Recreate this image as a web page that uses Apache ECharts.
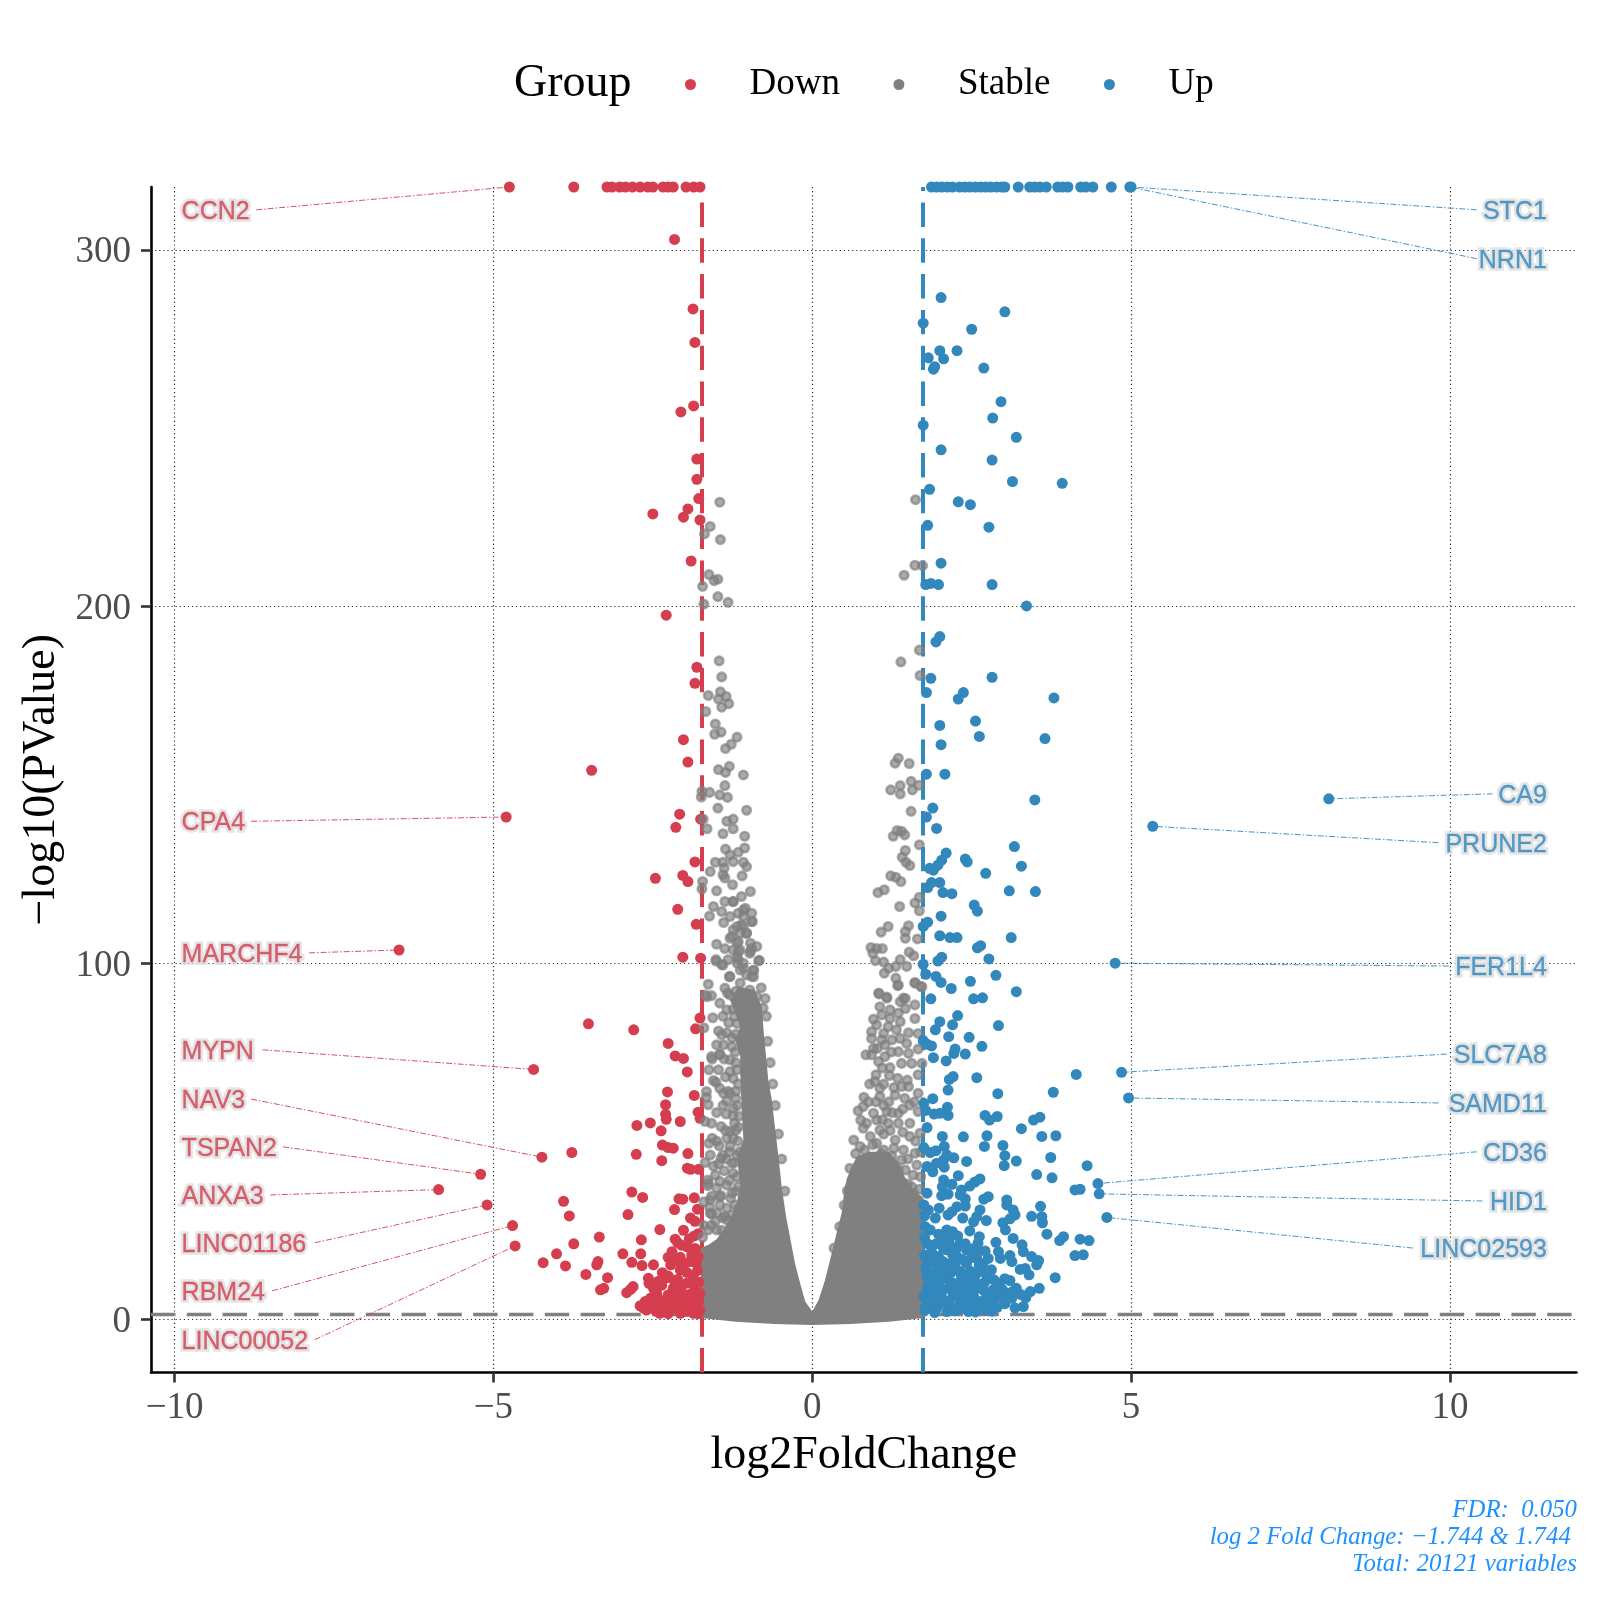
<!DOCTYPE html>
<html>
<head>
<meta charset="utf-8">
<script src="https://cdn.jsdelivr.net/npm/echarts@6/dist/echarts.min.js"></script>
<style>html,body{margin:0;padding:0;background:#fff}#c{width:1600px;height:1600px}</style>
</head>
<body>
<div id="c"></div>
<script>
var downPoints=[[-4.75,317.6],[-3.74,317.6],[-3.22,317.6],[-3.14,317.6],[-3.02,317.6],[-2.93,317.6],[-2.82,317.6],[-2.7,317.6],[-2.58,317.6],[-2.5,317.6],[-2.34,317.6],[-2.26,317.6],[-2.18,317.6],[-1.98,317.6],[-1.86,317.6],[-1.76,317.6],
[-2.16,302.9],[-1.87,283.4],[-1.84,274],[-1.86,256.2],[-2.06,254.5],[-1.81,241.3],[-1.81,235.6],[-1.78,230.2],[-1.95,227.3],[-2.5,225.9],[-2.02,225],[-1.76,224.2],[-1.9,212.7],[-2.29,197.5],[-1.81,182.9],[-1.84,178.4],[-2.02,162.6],[-1.95,156.3],[-3.46,154],[-2.08,141.7],[-1.75,140.3],[-2.14,138],[-1.84,128.3],[-2.46,123.7],[-2.03,124.5],[-1.95,122.8],[-2.11,115],[-1.82,110.8],[-2.03,101.6],[-1.75,101.3],
[-4.8,140.9],[-6.48,103.6],[-4.37,70.1],[-4.24,45.5],[-5.2,40.7],[-5.86,36.4],[-5.1,32.1],[-4.7,26.3],[-4.66,20.6],
[-1.76,84.5],[-3.51,82.9],[-2.8,81.2],[-1.83,81.5],[-2.26,77.4],[-2.15,73.9],[-2.02,73.2],[-1.96,69.4],[-2.27,63.8],[-1.85,62.8],[-2.3,60.2],[-1.79,58.1],[-2.3,57.5],[-2.29,56.1],[-1.76,56.4],[-2.75,54.4],[-2.54,55.1],[-2.07,55.5],[-2.37,52.9],[-3.77,46.8],[-2.76,46.3],[-2.35,48.9],[-2.26,48.2],[-2.18,48],[-1.95,46.5],[-2.36,44.5],[-1.96,42.4],[-1.91,42.1],[-1.78,42.1],[-2.83,35.7],[-2.66,34.2],[-2.09,33.8],[-2.03,33.7],[-1.85,34.1],[-3.9,33.1],[-3.81,29],[-2.89,29.4],[-2.16,30.8],[-1.8,30.9],[-1.91,28.4],[-1.84,27.5],[-2.39,25.2],[-2.02,25],[-1.79,24],[-3.34,23.1],[-2.68,22.3],[-2.11,21.5],[-3.74,21.2],[-1.97,20.4],[-1.84,19.9],[-4.01,18.4],[-2.97,18.4],[-2.69,18.4],[-2.2,19],[-2.26,17.4],[-2.07,17.4],[-1.89,18.1],[-1.79,17.6],[-4.22,15.9],[-3.36,16.2],[-3.38,15.3],[-2.83,16],[-3.87,15],[-2.67,15.1],[-2.49,15.3],[-2.22,15.3],[-2.02,15.3],[-1.92,16.2],[-1.82,15.8],[-3.55,12.6],[-2.35,13.1],[-2.26,12.2],[-2.07,13.9],[-1.8,13.7],[-3.21,11.7],[-2.57,11.5],[-2.28,11.7],[-2.11,11.2],[-2.56,10.1],[-2.81,9.2],[-2.85,8.4],[-2.91,7.5],[-3.27,8.7],[-3.32,8.3],[-2.49,8.7],[-2.05,9.2],[-1.85,9.6],[-2.18,8.7],
[-2.7,3.8],[-2.62,5],[-2.54,5.9],[-2.44,7.3],[-2.39,5.45],[-2.6,2.6],[-2.49,3.1],[-2.34,3.1],[-2.26,6.85],[-2.2,5.45],[-2.13,7.3],[-2.05,6.4],[-1.97,6.85],[-1.89,7.3],[-1.81,6.4],[-1.76,7.3],[-2.23,2.6],[-2.13,3.1],[-2.02,3.6],[-1.92,4],[-1.81,4],[-1.76,2.6],[-2.07,1.7],[-1.97,2.2],[-1.86,1.7],[-2.39,1.7],[-2.26,1.6],[-2.44,5],[-2.18,4.5],[-1.79,1.6],[-2.65,3.2],[-2.55,3.4],[-2.45,2.3],[-2.32,4.4],[-2.1,5],[-2,4.8],[-1.9,5.6],[-1.78,5.2],[-2.52,4.4],[-2.3,2.2],
[-2.15,22.5],[-2.05,20.8],[-1.93,22.6],[-1.85,23.4],[-2.12,16.4],[-1.97,13.2],[-1.87,12.4],[-2.17,11],[-1.96,10.2],[-1.78,10.4],[-2.36,9.6],[-2.42,10.6]];

var stablePoints=[[-1.45,229.2],[-1.6,222.4],[-1.69,220.3],[-1.44,218.7],[-1.62,208.9],[-1.48,207.6],[-1.54,207.2],[-1.72,205.6],[-1.48,202.7],[-1.32,201.1],[-1.7,200.6],[-1.46,184.7],[-1.42,180.2],[-1.63,175],[-1.44,176],[-1.35,174.7],[-1.47,174],[-1.31,172.7],[-1.42,171.7],[-1.67,170.5],[-1.52,167],[-1.43,164.7],[-1.53,164.1],[-1.18,163.3],[-1.27,161.3],[-1.36,160.1],[-1.3,155.1],[-1.47,154.2],[-1.36,153.4],[-1.08,152.7],[-1.37,149.7],[-1.73,148.1],[-1.61,147.8],[-1.45,147.1],[-1.74,146.5],[-1.33,146.4],[-1.48,143.4],[-1.03,142.8],[-1.71,140.3],[-1.24,140.3],[-1.34,139.7],[-1.65,137.6],[-1.24,137.6],[-1.4,136.2],[-1.06,135.5],[-1.36,131.9],[-1.06,132.2],[-1.16,131],[-1.29,130.3],[-1.24,128.4],[-1.52,128.2],[-1.4,128.2],[-1.08,128.2],[-1.03,127],[-1.38,126.6],[-1.6,125.6],[-1.4,124.7],[-1.1,124.4],[-1.37,123.8],[-1.72,122.8],[-1.25,121.9],[-1.73,120.7],[-1.5,120.2],[-0.97,120],[-1.11,118.6],[-1.24,117.2],[-1.37,117.2],[-1.55,115.8],[-1.05,115.3],[-1.42,114.4],[-1.29,113],[-0.95,113.9],[-1.61,113.1],[-1.16,113.9],[-1.39,111.3],[-0.94,111.6],[-1.11,110.7],[-1.24,109.3],[-1.03,108.3],[-1.29,106.9],[-1.16,106],[-1.5,105.2],[-0.95,104.1],[-1.37,104],[-1.16,103.2],[-0.98,102.7],[-1.51,100.9],[-1.32,100.9],[-1.16,100.9],[-0.83,100.7],[-1.42,99.5],[-1.08,98.5],[-0.92,98],[-1.29,96.2],[-0.95,96.2],[-1.63,94],[-1.37,92.9],[-1.13,94.3],[-0.98,92.4],[-1.68,91],[-1.58,90.8],[-1.29,91],[-0.87,90.6],
[-1.24,117.2],[-1.08,114.8],[-0.95,111.6],[-1.08,113],[-1.18,110.2],[-1.08,110.2],[-1.26,107.4],[-1.13,108.3],[-1.03,108.3],[-1.18,105.5],[-0.97,105.5],[-0.87,104.6],[-1.13,103.6],[-1.24,103.6],[-0.97,103.2],[-1.18,101.7],[-0.84,100.6],[-1.08,99.9],[-1.18,99.9],[-0.92,97.8],[-1.13,98],[-1.03,96.6],[-0.92,96.1],[-1.3,96.1],[-1.51,100.5],[-1.4,99.4],[-1.65,90.5],[-1.45,88.7],[-1.34,86.8],[-1.56,84.6],[-1.7,81.8],[-1.31,83.2],[-1.47,80.9],[-1.34,80.4],[-1.42,79.8],[-1.5,77],[-1.39,77],[-1.26,76.5],[-1.58,73.7],[-1.45,74.4],[-0.77,87.3],
[-1.57,73],[-1.45,74.2],[-1.47,70],[-1.29,72.8],[-1.29,69.5],[-1.24,67.6],[-1.51,66.5],[-1.45,64.8],[-1.66,63.9],[-1.39,63.4],[-1.29,63.4],[-1.66,62.3],[-1.34,61.3],[-1.63,60.2],[-1.24,59.2],[-1.35,57.6],[-1.24,57.1],[-1.68,55.5],[-1.16,53.9],[-1.43,54.1],[-1.29,52.7],[-1.57,50.8],[-1.34,50.8],[-1.24,50.8],[-1.62,49.4],[-1.46,48.7],[-1.29,48.5],[-1.4,46.1],[-1.6,46.1],[-1.43,45.2],[-1.18,46.1],[-1.47,43.6],[-1.26,43.8],[-1.38,41.7],[-1.52,40.5],[-1.24,41],[-1.64,39.1],[-1.45,38.7],[-1.34,37.7],[-1.64,37.5],[-1.5,36.8],[-1.16,37.3],[-1.26,35.4],[-1.58,34.5],[-1.43,34.7],[-1.61,31.4],[-1.45,32.1],[-1.34,31.2],[-1.21,32.1],[-1.58,29.6],[-1.49,29.8],[-1.37,28.8],[-1.26,29.3],
[-1.63,38.2],[-1.6,33.5],[-1.45,34.4],[-1.6,29.8],[-1.63,25.1],[-1.5,25.1],[-1.34,27.9],
[-1.7,33],[-1.52,27.5],[-1.7,26.3],[-1.42,25],[-1.58,26.4],[-1.72,23],[-1.4,28.5],[-1.28,34],[-1.55,43],[-1.68,44],[-1.35,45],[-1.5,50],[-1.22,55],[-1.5,58],[-1.58,55],[-1.2,64],[-1.55,67],[-1.62,70],[-1.2,72],[-1.2,80],[-1.22,85],[-1.4,85],
[-1.2,27],[-1.16,31],[-1.2,36],[-1.18,40],[-1.22,44],[-1.14,47],[-1.17,50],[-1.2,53],[-1.15,57],[-1.18,60],[-1.2,62],[-1.16,66],[-1.18,70],[-1.21,75],[-1.26,79],[-1.18,83],[-1.24,87],[-1.32,64],[-1.3,47],[-1.3,39],[-1.36,53],[-1.4,60],[-1.36,68],[-1.38,73],[-1.33,91.5],[-1.2,92],
[-0.72,85],[-0.7,78],[-0.66,72],[-0.62,66],[-0.58,60],[-0.53,52],[-0.48,45],[-0.43,36],[-0.8,93],[-0.74,90],
[1.62,229.9],[1.61,211.5],[1.73,211.4],[1.44,208.7],[1.68,187.7],[1.39,184.4],[1.69,180.6],[1.35,157.4],[1.3,156],[1.52,155.9],[1.55,150.9],[1.38,149.7],[1.67,149.8],[1.23,148.5],[1.57,148.5],[1.38,147.4],[1.55,142.5],[1.33,137.1],[1.4,136.9],[1.27,135.5],[1.45,135.9],[1.68,133.1],[1.46,131.5],[1.41,129.6],[1.47,128.2],[1.53,127.3],[1.23,124.4],[1.31,124],[1.39,122.8],[1.13,120.5],[1.03,119.7],[1.68,118.4],[1.61,116.8],[1.37,115.8],[1.68,114.6],[1.19,110.2],[1.51,110.4],[1.08,108.6],[1.46,108.8],[1.46,106.9],[1.65,106.7],[0.92,104.3],[1.01,104],[1.1,104],[0.95,102.7],[1.52,103],[1.59,102],[0.99,100.6],[1.12,100.2],[1.38,100.9],[1.2,98.5],[1.48,99],[1.31,99],[1.13,97.1],[1.31,95.7],[1.34,93.6],[1.61,94.5],[1.7,93.4],[1.04,91.5],[1.17,90.4],[1.43,90.1],
[1.05,91.3],[1.17,90.1],[1.35,93.8],[1.61,94.3],[1.72,93.3],[1.38,89.1],[1.46,90],[1.46,87.2],[1.61,88.2],[1.61,84.4],[1.06,87.7],[1.22,86.8],[1.35,85.9],[0.96,84.2],[1.09,85.4],[1.22,84.4],[1.38,83.5],[1.01,82.6],[1.19,82.1],[1.32,81.2],[0.93,80.7],[1.12,80.2],[1.51,80.4],[1.66,80.2],[0.93,78.8],[1.09,78.4],[1.25,78.4],[1.38,78.8],[1.48,77.4],[0.96,76],[1.66,75.8],[0.84,74.2],[0.93,74.2],[1.14,73.7],[1.35,75.1],[1.51,74.6],[1.04,72.3],[1.4,71.8],[1.56,71.8],[1.72,71.8],[1.22,70.6],[1,68.6],[0.98,66.7],[1.21,68.4],[1.34,67.6],[1.49,67.1],[1.66,68.6],[1.06,64.8],[1.4,65.3],[1.51,65.3],[1.06,62.5],[1.66,63.4],[0.81,62.3],[1.3,62.9],[1.53,60.1],[1.2,61],[1,61],[0.8,59.7],[1.35,57.8],[0.72,58.5],[0.96,57.8],[1.17,58.3],[1.66,58.3],[0.76,55.9],[1.01,55.9],[1.53,55],[1.35,55],[1.19,55],[0.8,53.6],[1.06,53.1],[0.65,50.3],[0.91,51.3],[1.3,50.3],[1.53,51.3],[1.69,52.2],[0.75,48.5],[1.01,49.4],[1.43,47.5],[1.25,45.8],[1.61,46.6],[0.59,42.4],[1.4,44.7],[1.64,43.3],[1.46,41.9],[1.27,41.9],[1.59,35.4],[1.66,33.5],[1.56,37.2],[1.43,34.4],
[0.85,55],[0.95,49],[1.12,47.5],[1.12,52],[1.22,53],[1.42,52.5],[1.62,50],[1.7,47],[1.5,45],[1.7,40],[1.58,40.5],[1.35,42],[1.5,38],[1.68,36.5],[0.88,61],[0.9,66],[1.12,66],[1.28,65],[1.45,62],[1.6,61],
[1.02,76],[1.14,77],[1.24,75],[1.1,70.5],[1.12,60],[1.25,58],[1.42,59],[1.1,56],[1.28,48],[1.08,46.5],[0.82,47.5],[0.68,46.5],[0.62,39],[0.55,36],[0.5,32],[0.43,26],[0.34,20]];

var upPoints=[[1.87,317.6],[1.95,317.6],[2.03,317.6],[2.12,317.6],[2.2,317.6],[2.31,317.6],[2.39,317.6],[2.47,317.6],[2.56,317.6],[2.64,317.6],[2.72,317.6],[2.8,317.6],[2.89,317.6],[2.97,317.6],[3.02,317.6],[3.23,317.6],[3.41,317.6],[3.49,317.6],[3.57,317.6],[3.67,317.6],[3.85,317.6],[3.93,317.6],[4.01,317.6],[4.21,317.6],[4.29,317.6],[4.4,317.6],[4.69,317.6],[4.98,317.6],[5,317.6],
[2.02,286.6],[3.02,282.6],[1.74,279.4],[2.5,277.7],[2,271.7],[2.27,271.7],[1.82,269.7],[2.06,269.4],[1.9,266.5],[1.92,267.2],[2.69,266.8],[2.96,257.4],[2.83,252.8],[1.74,250.8],[3.2,247.4],[2.02,243.9],[2.82,241],[3.14,235],[3.92,234.5],[1.84,232.8],[2.29,229.3],[2.48,228.5],[1.81,222.7],[2.77,222.2],[2.02,212.1],[1.78,206.1],[1.86,206.4],[1.98,206.1],[2.82,206.1],[3.36,200.1],[2,191.5],[1.94,190],[1.86,179.8],[2.82,180.1],[1.79,175.8],[2.37,175.8],[2.29,174],[3.79,174.3],[2.56,167.8],[2,166.6],[2.62,163.5],[3.65,162.9],[2.02,161.2],[1.79,152.9],[2.08,152.9],[8.1,146],[3.49,145.7],[1.89,143.4],[1.79,140.9],[5.34,138.3],[1.95,137.7],[3.17,132.6],[2.1,130.8],[2.4,129.1],[2.43,128.3],[2.03,128.8],[1.97,127.4],[1.84,126.5],[1.9,126],[3.28,127.1],[2.72,125.1],[1.87,122.5],[2,122.5],[1.81,121.1],[2.05,119.7],[2.19,119.4],[3.09,120.2],[3.5,120],[2.54,116.2],[2.59,114.5],[2.02,113.1],[1.81,111.4],[1.74,110.2],[2,107.6],[2.16,107.1],[2.27,107.1],[3.12,107.1],[2.64,104.8],[2.59,104.2],[2.03,101.6],[1.97,100.5],[2.77,101.1],[4.75,99.9],[1.74,99.6],[1.78,96.8],[1.94,96.2],[2.02,94.5],[2.18,92.8],[2.88,96.5],[2.48,94.8],[3.2,91.9],[1.86,89.9],[2.67,90.2],[2.53,89.9],
[2.28,85.2],[2,83.5],[2.2,82.6],[2.92,82.4],[1.93,81.2],[2.14,79.3],[2.46,79.1],[1.74,78.2],[1.87,76.7],[1.8,77.2],[2.66,76.6],[2.24,75.8],[2.22,74.6],[2.4,74.4],[1.9,73.4],[2.1,72.5],[4.85,69.3],[4.14,68.7],[2.58,67.8],[2.21,68.1],[2.15,67.3],[2.13,64.3],[3.78,63.7],[2.91,63.3],[4.96,62.1],[1.89,61.9],[1.75,60.6],[2.12,59.5],[1.78,58.6],[1.91,57.6],[2,57.8],[2.13,57.2],[2.71,57.2],[2.78,55.9],[2.9,56.9],[3.57,56.7],[3.47,55.9],[1.8,53.8],[3.28,53.5],[2.04,51.3],[2.37,51.2],[2.74,51.5],[3.6,51.3],[3.82,51.5],[1.75,48.2],[2.07,48.5],[1.94,47.3],[1.85,46.8],[2.7,48.5],[2.99,48.8],[3.02,45.9],[3.2,44.4],[3.74,45.4],[4.31,43.1],[3.01,43.1],[2.11,46.1],[2.22,45.3],[2.06,44.7],[2.42,44.3],[1.95,43.8],[1.8,42.9],[2.07,42.7],[1.89,41.4],[2.29,40.3],[3.52,40.6],[3.76,39.7],[2.63,39.4],[2.55,38.5],[2.47,37.4],[2.06,39.1],[2.19,37.9],[2.04,37.2],[4.48,38.1],[4.5,35.2],[4.12,36.3],[4.2,36.5],[2.34,36.3],[1.8,35.4],[2.03,34.7],[2.13,35.1],[2.32,34.9],[2.4,33.8],[2.76,34.4],[2.69,33.7],[3.05,33.5],[3.05,32.1],[1.75,32.1],[2.4,31.8],[2.27,31.6],[1.99,31.2],[1.82,30.7],[2.63,30.7],[3.58,31.7],[3.15,30.7],[3.18,29.3],[2.19,30.2],[4.62,28.6],[2.13,29.3],[2.58,28.8],[3.44,28.9],[3.6,28.8],[3.61,27.1],[1.93,28.4],[2.36,28.4],[2.73,27.7],[3.1,28.2],[2.99,27.1],[2.53,27.4],[1.77,26],[1.85,25.1],[2.11,25.1],[2.2,24.6],[2.47,24.8],[3.03,25.1],[2.06,23.2],[2.62,23.2],[3.68,23.9],[3.94,23.2],[3.88,22.1],[3.15,22.7],[4.2,22.5],[4.34,22.1],[1.8,21.3],[1.95,21.3],[2.32,21.3],[2.88,21.6],[3.29,20.9],[2.16,20.9],[2.53,19.9],[1.87,19],[2.11,19.5],[2.42,19.5],[2.71,19.2],[2.92,19],[3.31,19],[4.12,17.9],[4.25,18.1],[3.1,17.9],[3.44,17.6],[3.55,16.5],[3.52,15.3],[1.98,17.6],[2.27,17.6],[2.58,17.1],[2.76,17.1],[2.95,17.1],[3.13,16.2],[1.8,15.7],[2.16,15.7],[2.42,15.7],[2.68,15.7],[3.34,14.3],[3.26,14],[3.4,12.5],[2.81,13.9],[1.95,14.8],[3.81,11.7],[3.1,10.9],[2.32,13.4],[2.58,12.9],[1.8,12],[2.11,11.5],[2.74,12],[2.42,11],[1.9,10.1],[2.27,9.7],[2.63,9.7],[2.94,10.1],[3.2,8.7],[3.56,8.7],[3.42,7.8],[2.84,8.3],[1.8,8.7],[2.06,8.3],[2.45,8.3],[3.05,7.3],[3.28,6.9],[3.13,5.9],[2.94,6.4],[2.74,6.4],[2.21,6.9],[2.53,6.4],[1.87,6.9],[1.75,6.4],[2.06,5.5],[2.32,5],[2.63,5],[2.84,5.5],[3.31,3.6],[2.76,4],[2.5,3.8],[2.16,3.6],[1.85,4],[1.95,3.1],[2.37,3.1],[2.63,3.1],[1.77,2.6],[2.11,2.2],[2.25,2.4],[2.45,2.2],[2.7,2.6],[2.9,3.4],[1.9,5.4],[2,7.4],[2.15,5.2],[2.3,7.1],[2.4,5.6],[2.55,4.6],[2.7,7.9],[1.85,10.6],[2,10.8],[2.2,10.3],[2.35,9.3],[2.5,10.4],[2.7,10.3],[2.85,11.1],[1.78,14.2],[1.9,13],[2,12.4],[2.18,13.2],[2.48,13.5],[2.65,14],[1.88,17.3],[2.05,16.2],[2.2,18.2],[2.35,16.8],[2.5,17.4],[2.05,20.2],[2.25,19.6],[2.4,21.2],[2.6,19.1],[1.76,18],[1.76,23],[1.76,29],
[1.78,3.6],[1.92,1.9],[2.02,4.6],[2.28,3.5],[2.56,2.1],[2.82,2.3],[3.02,4.4],[3.18,3.2],[2.98,8.4],[2.58,8.6],[2.14,8.9],[1.94,8.2],[1.82,11.6],[2.46,6.6],[2.34,11.9],[2.54,11.3],[2.8,6.2],[2.9,7.6],[3.15,7.9],[3.35,6.1],[3.02,11.4],[2.62,15.2],[2.24,14.8],[2.06,13.8],[1.86,20.7],[2.6,21.4],[2.14,22.2],[1.98,23.9],[2.28,23.4]];

// Dense central cloud: outline (log2FC, -log10 P)
var cloudOutline=[[-1.745,0.4],[-1.745,20],[-1.62,21],[-1.5,22.5],[-1.4,25],[-1.3,28],[-1.2,31.6],[-1.13,37.3],[-1.18,45.7],[-1.08,50.4],[-1.11,59.7],[-1.13,69],[-1.13,73.7],[-1.21,78.4],[-1.13,82.1],[-1.29,89.6],[-1.16,93.3],[-0.9,92.4],[-0.79,87.7],[-0.76,80.2],[-0.74,76.5],[-0.69,67.2],[-0.635,61.6],[-0.58,53.2],[-0.53,45.7],[-0.48,37.3],[-0.41,28.8],[-0.35,23.2],[-0.27,15.7],[-0.19,10.1],[-0.11,5],[0,2.2],[0.1,5.4],[0.2,11],[0.28,16.7],[0.38,24.1],[0.46,29.8],[0.51,37.2],[0.59,41.9],[0.7,45.7],[0.9,47],[1.2,47],[1.35,44],[1.45,40],[1.6,36],[1.745,34],[1.745,0.4],[1.2,-0.7],[0.6,-1.3],[0,-1.6],[-0.6,-1.3],[-1.2,-0.7]];

var geneNames=['CCN2','CPA4','MARCHF4','MYPN','NAV3','TSPAN2','ANXA3','LINC01186','RBM24','LINC00052','STC1','NRN1','CA9','PRUNE2','FER1L4','SLC7A8','SAMD11','CD36','HID1','LINC02593'];
var geneX=[-4.75,-4.8,-6.48,-4.37,-4.24,-5.2,-5.86,-5.1,-4.7,-4.66,5,4.98,8.1,5.34,4.75,4.85,4.96,4.48,4.5,4.62];
var geneY=[317.6,140.9,103.6,70.1,45.5,40.7,36.4,32.1,26.3,20.6,317.6,317.6,146,138.3,99.9,69.3,62.1,38.1,35.2,28.6];

var xTickValues=[-10,-5,0,5,10];
var yTickValues=[0,100,200,300];
var fcCut=1.744, pCut=1.301;
var captionLines=['FDR:  0.050','log 2 Fold Change: \u22121.744 & 1.744 ','Total: 20121 variables'];

// label layout
var labelAnchorY=[311.2,139.7,102.8,75.6,61.8,48.4,34.9,21.5,8.0,-5.7,311.2,297.5,147.4,133.7,99.1,74.4,60.7,47,33.2,20];
var lineStartX=[-8.72,-8.8,-7.89,-8.62,-8.8,-8.3,-8.5,-7.8,-8.47,-7.8,10.42,10.42,10.67,9.82,9.98,9.95,9.82,10.42,10.51,9.42];
var RED='#D53E4F',BLUE='#3288BD',GRAY='#808080',SERIF='"Liberation Serif",serif';
var xMin=-10.37,xMax=11.985,yMin=-14.9,yMax=317.6;

function isLeft(i){return geneX[i]<0;}
function makeLabels(halo){
  return geneNames.map(function(n,i){
    var left=isLeft(i), c=left?RED:BLUE;
    return {value:[left?-9.89:11.52,labelAnchorY[i]],name:n,
      label:{position:left?'right':'left',color:halo?'#DEDEDE':c,textBorderColor:halo?'#DEDEDE':c,textBorderWidth:halo?5.5:0.3}};
  });
}
var redLines=[],blueLines=[];
geneNames.forEach(function(n,i){
  (isLeft(i)?redLines:blueLines).push({coords:[[lineStartX[i],labelAnchorY[i]],[geneX[i],geneY[i]]]});
});
function connector(data,color){return {type:'lines',coordinateSystem:'cartesian2d',data:data,z:5,silent:true,
  lineStyle:{color:color,width:0.9,type:[6,2,1.5,2],opacity:1,curveness:0},effect:{show:false}};}
function vline(v,c){return {xAxis:v,lineStyle:{color:c,width:4,type:[24.4,11.4]}};}
function labelSeries(name,halo,z){return {type:'scatter',name:name,data:makeLabels(halo),symbolSize:0,z:z,silent:true,clip:false,
  label:{show:true,distance:0,offset:[0,2],formatter:'{b}',fontFamily:'"Liberation Sans",sans-serif',fontSize:25}};}
function captionTitle(i){return {text:captionLines[i],right:18,top:1493+27*i,textStyle:{fontFamily:SERIF,fontSize:24.8,fontStyle:'italic',fontWeight:'normal',color:'#1E90FF'}};}

var chart=echarts.init(document.getElementById('c'));
chart.setOption({
  animation:false,
  backgroundColor:'#fff',
  title:[
    {text:'Group',left:509,top:56,textStyle:{fontFamily:SERIF,fontSize:46,fontWeight:'normal',color:'#000'}},
    captionTitle(0),captionTitle(1),captionTitle(2)
  ],
  legend:{left:680,top:61,itemWidth:108,itemHeight:11,itemGap:53.5,selectedMode:false,
    textStyle:{fontFamily:SERIF,fontSize:37,color:'#000'},
    data:[{name:'Down',icon:'circle',itemStyle:{color:RED,borderWidth:0,opacity:1}},{name:'Stable',icon:'circle',itemStyle:{color:GRAY,borderWidth:0,opacity:1}},{name:'Up',icon:'circle',itemStyle:{color:BLUE,borderWidth:0,opacity:1}}]},
  grid:{left:151,top:187,width:1425.5,height:1185.5,containLabel:false},
  xAxis:{type:'value',min:xMin,max:xMax,name:'log2FoldChange',nameLocation:'middle',nameGap:60,
    nameTextStyle:{fontFamily:SERIF,fontSize:46,color:'#000'},
    axisLine:{show:true,onZero:false,lineStyle:{color:'#000',width:2.6}},
    axisTick:{show:true,length:10,customValues:xTickValues,lineStyle:{color:'#333',width:2.6}},
    axisLabel:{margin:17,fontFamily:SERIF,fontSize:37,color:'#4D4D4D',customValues:xTickValues,
      formatter:function(v){return String(v).replace('-','\u2212');}},
    splitLine:{show:true,lineStyle:{color:'#333',width:1.2,type:[1.2,2.9]}}},
  yAxis:{type:'value',min:yMin,max:yMax,name:'\u2212log10(PValue)',nameLocation:'middle',nameGap:86,
    nameTextStyle:{fontFamily:SERIF,fontSize:46,color:'#000'},
    axisLine:{show:true,onZero:false,lineStyle:{color:'#000',width:2.6}},
    axisTick:{show:true,length:10,customValues:yTickValues,lineStyle:{color:'#333',width:2.6}},
    axisLabel:{margin:20,fontFamily:SERIF,fontSize:37,color:'#4D4D4D',customValues:yTickValues,verticalAlign:'top',lineHeight:6},
    splitLine:{show:true,lineStyle:{color:'#333',width:1.2,type:[1.2,2.9]}}},
  series:[
    {type:'scatter',name:'Down',data:downPoints,symbolSize:11,z:3,clip:true,itemStyle:{color:RED,opacity:1},
     markLine:{silent:true,symbol:'none',label:{show:false},animation:false,z:1,
       data:[vline(-fcCut,RED),vline(fcCut,BLUE),{yAxis:pCut,lineStyle:{color:GRAY,width:3.4,type:[24.4,11.4]}}]}},
    {type:'custom',name:'cloud',data:cloudOutline,z:3,silent:true,clip:true,encode:{x:0,y:1},
     renderItem:function(p,api){
       if(p.dataIndex!==0)return null;
       return {type:'polygon',shape:{points:cloudOutline.map(function(c){return api.coord(c);})},style:{fill:GRAY}};
     }},
    {type:'scatter',name:'Stable',data:stablePoints,symbolSize:8.5,z:3,clip:true,
     itemStyle:{color:GRAY,opacity:0.66,borderColor:GRAY,borderWidth:2.6}},
    {type:'scatter',name:'Up',data:upPoints,symbolSize:11,z:4,clip:true,itemStyle:{color:BLUE,opacity:1}},
    connector(redLines,RED),connector(blueLines,BLUE),
    labelSeries('geneHalo',true,6),labelSeries('geneLabels',false,7)
  ]
});
</script>
</body>
</html>
